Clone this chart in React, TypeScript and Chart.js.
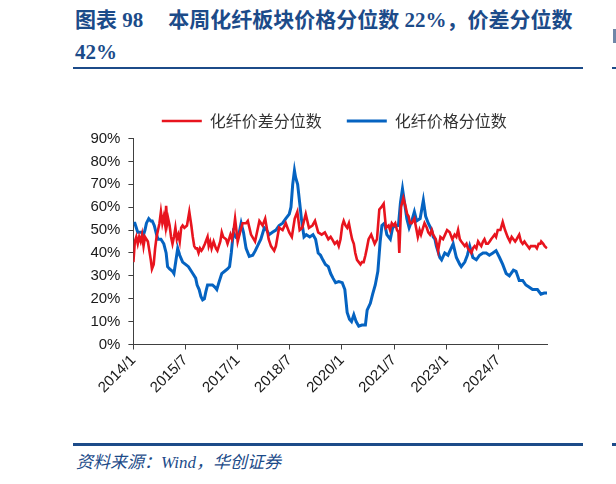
import React, { useEffect, useRef } from "react";
import { Chart, registerables } from "chart.js";

Chart.register(...registerables);

// ---- data (months since 2014/1, percentile %) ----
const spreadMonths = [0,0.5,1,1.5,2,2.5,3,3.5,4,4.5,5,5.5,6,6.4,7,7.5,8,8.5,9,9.5,10,10.5,11,11.3,11.7,12,12.5,13,13.5,14,14.5,15,15.5,16,16.5,17,17.6,18.5,19.3,20,20.5,21,21.5,22,22.5,23,23.5,24,24.7,25.6,26,26.5,27,27.7,28.5,29,30,30.5,31,32,32.5,33.5,34,34.5,35.1,36,36.6,37.7,38.9,39.5,40.6,42,43.5,44.6,45.5,46.7,47.5,48.6,49.2,50.3,51.5,52.6,53.8,54.7,55.7,56.6,57.4,58.3,59.5,60.6,61.8,62.7,63.8,65,66.1,67.3,68.1,68.6,69.5,70.3,70.9,71.5,72.1,72.6,73.2,73.8,74.4,75,75.5,76.1,76.6,77.2,77.8,78.4,78.9,79.5,80.1,80.6,81.2,82.1,82.7,83.3,84.1,84.9,85.6,86.4,87.2,88.1,88.6,89.2,89.8,90.4,91,91.5,91.8,92.4,93.2,94,94.5,95,95.5,96.1,97,97.6,98.2,98.8,99.3,100,100.5,101.3,101.8,102.4,103,103.5,104.4,105.2,106,106.9,107.6,108.3,109.2,110.1,110.9,111.5,112.1,112.7,113.2,113.8,114.4,115,115.5,116.1,116.7,117.2,117.8,118.4,119,119.5,120.1,120.7,121.2,121.8,122.4,123,123.5,124.1,124.7,125.2,125.8,126.7,127.5,128.3,129.2,130,130.6,131.2,131.8,132.3,133.2,133.8,134.4,135,135.5,136.1,136.7,137.2,137.8,138.7,139.3,139.9,140.5,140.8,141.5,142,142.8];
const spreadValues = [36,45,47,44,47,45,48,43,47,46,45,41,37,33,35,42,47,50,53,58,53,56,52,60.6,53,55,52,47,44,47,51,46,48,45,51,52,51,52,58,52,47,43,42,42,40,42,41,42,44,47,43,45,42,45,42,41,45,49,47,46,44,48,46,49,55,45,48,53,53,54,48,45,54,52,55,46,43,41,43,51,50,53,49,47,55,58,50,51,57,51,52,54,49,48,49,46,47,46,44,45,43,46,52,54,52,51,53,49,46,44,40,37,36,35,36,36,39,42,46,48,46,44,46,59,60,61.5,51,52,50,53,52,53,50,49,40,60,64,60,57,56,53,53,55,51,47,50,48,51,53,51,49,48,50,48,46,41,47,46,48,50,49,46,48,47,50,46,45,44,43,44,42,41,40,42,43,42,45,44,43,45,46,44,44,45,46,47,48,47,50,50,53.5,50,47,45,47,46,45,46,48,45,44,45,44,43,42,43,43,43,42,44,44,45,44,43,42];

const priceMonths = [0,0.5,1,1.5,2,3,3.5,4,4.5,5.3,6,6.5,7.2,8,8.5,9.5,10.5,11.3,11.8,12.5,13.5,14,14.6,15.3,16,17,18,19,20,20.5,21.5,22,22.7,23.3,23.9,24.5,25,25.6,26.5,27.3,28.2,28.8,29.5,30.5,31.5,32.5,33.2,33.8,34.5,35.4,36.4,37.2,38,38.9,40,41.2,42.1,43.2,44,45.2,46,46.9,48,49.2,50.3,51.5,52.6,53.8,54.4,55,55.6,56,56.7,57.4,58,58.9,59.7,60.9,62,62.9,63.8,64.6,65.4,66.3,67.3,68.1,68.9,69.8,70.9,72.1,73,73.8,74.6,75.3,76.1,76.9,77.8,78.9,80.1,80.7,81.8,82.6,83.5,84.4,85.2,85.8,86.7,87.5,88.7,89.5,90.4,91.5,92.2,92.9,93.6,94.4,95.2,96.1,97,97.8,99,100.1,100.9,101.8,103,103.5,104.1,104.6,105.8,106.4,107.5,108.6,110.4,111.5,112.7,113.2,114.4,115.3,116.1,117.2,118.4,119.5,120.7,121.8,122.9,124.1,125.2,126.4,127.5,128.7,129.8,131.2,132.1,133.2,134.4,135.5,136.7,137.8,139.5,140.7,141.8,142.8];
const priceValues = [53,53,51,49,49,49,48,50,53,55,54,54,52,48,46,46,44,40,34,33,32,31,36,42,39,36,35,34,32,31,29,26,24,21,19.5,20,23,26,26,26,25,24,27,31,32,33,34,40,49,47,48,53,49,42,38.5,39,41,44,46,51,50,48,49,50,52,53,55,57,60,70,76,73,70,62,55,47,48,47,48,46,40,39,37,35,34,31,29,27,27.5,27,24,14,11,10,13,10,8,8.5,8.5,15,18,22,26,32,45,52,53,48,46,51,52,52,62,68,62,55,51,54,58,54,55,63,56,53,50,47,46,43,38,37,40,39,44,38,35,34,36,39,43,38,37,39,40,40,39,40,41,38,35,31,30,32.5,32,28,28,26,25,24,24,22,22.5,22.5];

const seriesNames = ["化纤价差分位数", "化纤价格分位数"];
const xTickMonths = [0, 18, 36, 54, 72, 90, 108, 126];
const xTickLabels = ["2014/1", "2015/7", "2017/1", "2018/7", "2020/1", "2021/7", "2023/1", "2024/7"];
const yMin = 0;
const yMax = 90;
const yStep = 10;
const xMax = 143;

const BLUE = "#1C4B89";

const legendFixPlugin = {
  id: "legendFix",
  beforeUpdate(chart: any) {
    const lg = chart.legend;
    if (lg && !lg.__patched) {
      const origFit = lg.fit.bind(lg);
      lg.fit = function () {
        origFit();
        this.height = 50.5;
      };
      const origDraw = lg.draw.bind(lg);
      lg.draw = function (area: any) {
        const ctx = this.ctx;
        ctx.save();
        ctx.translate(60.5, 0);
        origDraw(area);
        ctx.restore();
      };
      lg.__patched = true;
    }
  },
};

function LineChart() {
  const ref = useRef<HTMLCanvasElement | null>(null);
  useEffect(() => {
    if (!ref.current) return;
    const chart = new Chart(ref.current, {
      type: "line",
      data: {
        datasets: [
          {
            label: seriesNames[0],
            data: spreadMonths.map((m, i) => ({ x: m, y: spreadValues[i] })),
            borderColor: "#E8141E",
            backgroundColor: "#E8141E",
            borderWidth: 2.6,
            pointRadius: 0,
            tension: 0,
          },
          {
            label: seriesNames[1],
            data: priceMonths.map((m, i) => ({ x: m, y: priceValues[i] })),
            borderColor: "#0563C1",
            backgroundColor: "#0563C1",
            borderWidth: 3,
            pointRadius: 0,
            tension: 0,
          },
        ],
      },
      options: {
        animation: false,
        responsive: true,
        maintainAspectRatio: false,
        layout: { padding: { top: 8, left: 0, right: 68.4, bottom: 0 } },
        plugins: {
          tooltip: { enabled: false },
          legend: {
            position: "top",
            align: "center",
            labels: {
              usePointStyle: true,
              pointStyle: "line",
              pointStyleWidth: 40,
              padding: 25,
              color: "#333333",
              font: { family: '"Noto Sans CJK SC", sans-serif', size: 16 },
            },
          },
        },
        scales: {
          x: {
            type: "linear",
            min: 0,
            max: xMax,
            afterBuildTicks: (scale: any) => {
              scale.ticks = xTickMonths.map((v) => ({ value: v }));
            },
            afterFit: (scale: any) => {
              scale.height = 65.5;
            },
            ticks: {
              autoSkip: false,
              maxRotation: 45,
              minRotation: 45,
              padding: 2,
              color: "#1a1a1a",
              font: { family: '"Liberation Sans", Arial, sans-serif', size: 15 },
              callback: (_v: any, i: number) => xTickLabels[i],
            },
            grid: {
              display: true,
              drawOnChartArea: false,
              drawTicks: true,
              tickLength: 5,
              color: "#404040",
            },
            border: { display: true, color: "#404040", width: 1 },
          },
          y: {
            min: yMin,
            max: yMax,
            afterFit: (scale: any) => {
              scale.width = 133.4;
            },
            ticks: {
              stepSize: yStep,
              padding: 8,
              color: "#1a1a1a",
              font: { family: '"Liberation Sans", Arial, sans-serif', size: 15 },
              callback: (v: any) => `${v}%`,
            },
            grid: {
              display: true,
              drawOnChartArea: false,
              drawTicks: true,
              tickLength: 5,
              color: "#404040",
            },
            border: { display: true, color: "#404040", width: 1 },
          },
        },
      },
      plugins: [legendFixPlugin],
    } as any);
    return () => chart.destroy();
  }, []);
  return (
    <div style={{ position: "absolute", left: 0, top: 80, width: 616, height: 330 }}>
      <canvas ref={ref} />
    </div>
  );
}

export default function App() {
  const serif = '"Liberation Serif", "Times New Roman", "Noto Sans CJK SC", serif';
  return (
    <div style={{ position: "absolute", left: 0, top: 0, width: 616, height: 484, background: "#fff", overflow: "hidden" }}>
      <div
        style={{
          position: "absolute",
          left: 75,
          top: 4,
          fontFamily: serif,
          fontWeight: "bold",
          fontSize: 21,
          lineHeight: "32px",
          color: BLUE,
          whiteSpace: "nowrap",
        }}
      >
        <span>图表 98</span>
        <span style={{ marginLeft: 25 }}>本周化纤板块价格分位数 22%，价差分位数</span>
        <br />
        <span>42%</span>
      </div>
      <div style={{ position: "absolute", left: 73, top: 66.5, width: 510, height: 2.5, background: BLUE }} />
      <div style={{ position: "absolute", left: 612, top: 66.5, width: 4, height: 2.5, background: BLUE }} />
      <div style={{ position: "absolute", left: 613, top: 29, width: 3, height: 14, background: "#6f86a8" }} />
      <LineChart />
      <div style={{ position: "absolute", left: 73, top: 443, width: 510, height: 2.5, background: BLUE }} />
      <div style={{ position: "absolute", left: 612, top: 443, width: 4, height: 2.5, background: BLUE }} />
      <div
        style={{
          position: "absolute",
          left: 76,
          top: 453,
          fontFamily: serif,
          fontStyle: "italic",
          fontSize: 17,
          lineHeight: "20px",
          color: BLUE,
          whiteSpace: "nowrap",
        }}
      >
        资料来源：Wind，华创证券
      </div>
    </div>
  );
}
